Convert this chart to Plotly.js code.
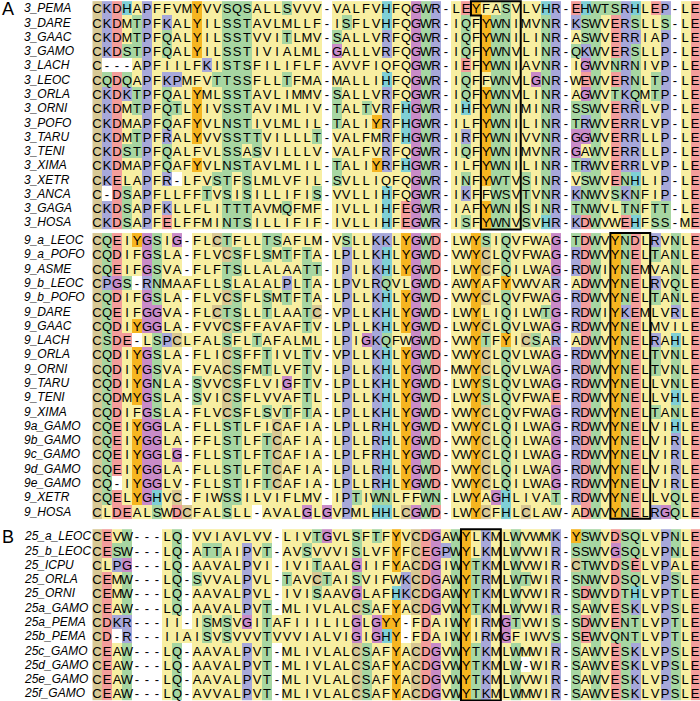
<!DOCTYPE html>
<html><head><meta charset="utf-8">
<script src="https://cdn.plot.ly/plotly-3.0.1.min.js"></script>
<style>html,body{margin:0;padding:0;background:#fff}#chart{width:700px;height:701px}</style>
</head><body><div id="chart"></div>
<script>
// ---------- data ----------
const labels3 = ["3_PEMA","3_DARE","3_GAAC","3_GAMO","3_LACH","3_LEOC","3_ORLA","3_ORNI","3_POFO","3_TARU","3_TENI","3_XIMA","3_XETR","3_ANCA","3_GAGA","3_HOSA"];
const seqs3 = [
"CKDHAPFFVMYVVSQSALLSVVV-VALFVHFQGWR-LEYFASVLVHR-EHWTSRHLEP-LE",
"CKDMTPFKALYILSSTAVLMLLF-ISFLVHFQGWR-IQFYWNIMVNR-KSWVERSLLS-LE",
"CKDMTPFQALYILSSTVVITLMV-SALLVRFQGWR-IQFYWNILINR-ASWVERRIAP-LE",
"CKDSTPFQALYILSSTIVIALML-GALLVRFQGWR-IQFYWNVLINR-QKWVERSLLP-LE",
"C---APFIILFKISTSFILIFLF-AVVFIQFQGWR-IEFYWNIAVNR-IGWVNRNIVP-LE",
"CQDQAPFKPMFVTTSSFLLTFMA-MALLIHFQGWR-IQFFWNVLGNR-WEWVERNLTP-LE",
"CKDKTPFQALYMLSSTAVLIMMV-SALLVRFQGWR-IQFYWNVLINR-AGWVTKQMTP-LE",
"CKDMTPFQTLYIVSSTAVIMLIV-TALTVRFHGWR-IHFYWNIMINR-SSWVERRLVP-LE",
"CKDMAPFQAFYVLNSTIVLMLIL-TALIYRFHGWR-ILFYWNILINR-TRWVERRLVP-LE",
"CKDMTPFRALYVVSSTTVILLLT-VALFMRFHGWR-IRFYWNIVVNR-GGWVERRLLP-LE",
"CKDSTPFQALFVLSSASVILLLV-VALFVRFQGWR-IQFYWNIMVNR-GAWVERRLLP-LE",
"CKDMAPFQAFYVLNSTAVLMLIL-TALIYRFHGWR-ILFYWNILINR-TRWVERRLVP-LE",
"CKELAPFR-LFVSTFSLMLVFIL-SVLLIQFQGWR-INFYWTVSINR-VSWVENHLIP-LE",
"C-DSAPFLLFFTVSISILLIFIS-VVLLIHFQGWR-IKFFWSVTVNR-KNWVSKNFIP-LE",
"CKDSAPFKLLFLITTTAVMQFMF-IVLLIHFEGWR-IAFYWNISINR-TNWVLTNFTT-LE",
"CKDSAPFELFFMINTSILLIFIF-IVLLIHFEGWR-ISFYWNVSVHR-KDWVWEHFSS-ME"
];
const labels9 = ["9_a_LEOC","9_a_POFO","9_ASME","9_b_LEOC","9_b_POFO","9_DARE","9_GAAC","9_LACH","9_ORLA","9_ORNI","9_TARU","9_TENI","9_XIMA","9a_GAMO","9b_GAMO","9c_GAMO","9d_GAMO","9e_GAMO","9_XETR","9_HOSA"];
const seqs9 = [
"CQEIYGSIG-FLCTFLLTSAFLM-VSLLKKLYGWD-LWYSIQVFWAG-TDWVYNDLRVNLE",
"CQDIFGSLA-FLVCSFLSMTFTA-LPLLKHLYGWD-VWYCLQVFWAG-RDWVYNELTANLE",
"CQEIFGSVA-FLFTSLLALAATT-IPILKHLYGWD-LWYCFQILWAG-RDWIYNEMVANLE",
"CPGS-RNMAAFLLSLALALPLTA-LPVLRQVLGWD-AWYAFYVWVAR-ADWVYNELRVQLE",
"CQDIFGSLA-FLVCSFLSMTFTA-LPLLKHLYGWD-VWYCLQVFWAG-RDWVYNELTANLE",
"CQEIFGGVA-FLCTSLLTLAATC-VPLLKHLYGWD-LWYLIQILWTG-RDWIYKEMLVRLE",
"CQDIYGGLA-FVVCSFFAVAFTV-LPLLKHLYGWD-LWYCLQVLWAG-RDWVYNELMVILE",
"CSDE-LSPCLFALSFLTAFALML-LPIGKQFWGWD-VWYTFYICSAR-ADWVYNELRAHLE",
"CQDIYGSLA-FLICSFFTIVLTV-VPLLKHLYGWD-VWYCLQVLWAG-RDWVYNELTVNLE",
"CQDIYGSVA-FVACSFMTLVFTV-LPLLKHLYGWD-MWYCLQVLWAG-RDWVYNELTVNLE",
"CQDIYGNLA-SVVCSFLVIGFTV-LPLLKHLYGWD-LWYSLQVLWAG-RDWVYNELLVNLE",
"CQDMYGSLA-SVICSFLVVAFTL-LPLLKHLYGWD-LWYSLQVFWAE-RDWVYNELLVHLE",
"CQDIFGSLA-FLVCSFLSVTFTA-LPLLKHLYGWD-VWYCLQVFWAG-RDWVYNELTANLE",
"CQEIYGGLA-FLLSTLFICAFIA-LPLLRHLYGWD-VWYCLQILWAG-RDWVYNELVIHLE",
"CQEIYGGLA-FFLSTLFTCAFIA-LPLLRHLYGWD-VWYCLQILWAG-RDWVYNELVIRLE",
"CQEIYGGLG-FLLSTLFTCAFIA-LPLFRHLYGWD-VWYCLQILWAG-RDWVYNELVIRLE",
"CQEIYGGLA-FLLSTLFTCAFIA-LPLLRHLYGWD-VWYCLQILWAG-RDWVYNELVIRLE",
"CQ-IYGGLV-FLLSTIFTCAFIA-LPLLRHLYGWD-VWYCLQILWAG-RDWVYNELVIRLE",
"CQELYGHVC-FIWSSILVIFLMV-IPTIWNLFFWN-LWYAGHLIVAT-RDWVYNELLVQLE",
"CLDEALSWDCFALSLL-AVALGLGVPMLHHLCGWD-LWYCFHLCLAW-ADWVYNELRGQLE"
];
const labels25 = ["25_a_LEOC","25_b_LEOC","25_ICPU","25_ORLA","25_ORNI","25a_GAMO","25a_PEMA","25b_PEMA","25c_GAMO","25d_GAMO","25e_GAMO","25f_GAMO"];
const seqs25 = [
"CEVW---LQ-VVIAVLVV-LIVTGVLSFTFYVCDGAWYLKMLWVWMK-YSWVDSQLVPNLE",
"CESW---LQ-ATTAIPVT-AVSVVVISLVFYFCEGPWYLKMLWVWIR-SSWVGSQLVPNLE",
"CLPG---LQ-AAVALPVI-IVITAALGIIFYACDGIWYTKMLWVWIR-CTWVDSELVPALE",
"CEMW---LQ-SVVALPVL-TAVCTAISVIFWKCDGAWYTRMLWTWIR-SNWVDSQLVPSLE",
"CEMW---LQ-AAVALPVL-IVISAAVGLAFHKCDGAWYTKMLWVWIR-SDWVDTHLVPTLE",
"CEAW---LQ-AAVALPVT-MLIVLALCSAFYACDGVWYTKMLWVWIR-SAWVESKLVPSLE",
"CDKR---II-ISMSVGITAFIIILILGLGYY-FDAIWYIRMGTVWIS-SDWVENTLVPTLE",
"CD-R---IIAISVSVVVTVVVIALVIGIGHY-FDAIWYIRMGFIWVS-SEWVQNTLVPTLE",
"CEAW---LQ-AAVALPVT-MLIVLALCSAFYACDGVWYTKMLWMWIR-SAWVESKLVPSLE",
"CEAW---LQ-AAVALPVT-MLIVLALCSAFYACDGVWYTKMLW-WIR-SAWVESKLVPSLE",
"CEAW---LQ-AAVALPVT-MLIVLALCSAFYACDGVWYTKMLWVWIR-SAWVESKLVPSLE",
"CEAW---LQ-AVVALPVT-MLIVLALCSAFYACDGVWYTKMLWMWIR-SAWVESKLVPSLE"
];
// alignment columns (1-based) where W is shaded as conserved (green) and Q as hydrophobic context (yellow)
const wConserved3 = [34, 41, 51];
const wConserved9 = [29, 34, 51];
const wConserved25 = [4, 37, 43, 51];
const qHydro3 = [30, 32];
const qHydro9 = [];
const qHydro25 = [];
// boxed motif columns
const box3 = {first: 40, last: 43, firstRowFirst: 39};
const box9 = {first: 53, last: 56};
const box25 = {first: 38, last: 41};

// ---------- styles ----------
const palette = ["#ffffff","#f8efa2","#a7d6a2","#f39d9b","#a7a8da","#c98bc8","#f6b520","#7fd0d6","#d8c894"];
const cls = {"-":0,A:1,V:1,L:1,I:1,M:1,F:1,W:1,S:2,T:2,N:2,Q:2,D:3,E:3,K:4,R:4,P:4,G:5,Y:6,H:7,C:8};
const FONT = "Liberation Sans, Arial, sans-serif";
const gap1 = 0.24, gap2 = 0.74;
const start3 = 0, start9 = 16 + gap1, start25 = 36 + gap1 + gap2;

function block(seqs, start, wCols, qCols) {
  const ncol = seqs[0].length;
  const x = Array.from({length: ncol}, (_, i) => i + 1);
  const y = seqs.map((_, i) => start + i);
  const z = seqs.map(s => s.split("").map((ch, j) => {
    if (ch === "W" && wCols.includes(j + 1)) return 2;
    if (ch === "Q" && qCols.includes(j + 1)) return 1;
    return cls[ch];
  }));
  const text = seqs.map(s => s.split(""));
  return {
    type: "heatmap", x, y, z, text,
    texttemplate: "%{text}",
    textfont: {family: FONT, size: 13, color: "#000"},
    colorscale: palette.map((c, k) => [k / (palette.length - 1), c]),
    zmin: 0, zmax: palette.length - 1,
    showscale: false, hoverinfo: "skip", xgap: 0, ygap: 0
  };
}

const data = [
  block(seqs3, start3, wConserved3, qHydro3),
  block(seqs9, start9, wConserved9, qHydro9),
  block(seqs25, start25, wConserved25, qHydro25)
];

const annotations = [];
function addLabels(labels, start) {
  labels.forEach((t, i) => annotations.push({
    text: "<i>" + t + "</i>", xref: "paper", x: 22 / 700, xanchor: "left",
    yref: "y", y: start + i, yanchor: "middle", showarrow: false,
    font: {family: FONT, size: 12, color: "#000"}
  }));
}
addLabels(labels3, start3); addLabels(labels9, start9); addLabels(labels25, start25);
annotations.push({text: "A", xref: "paper", x: 0, xanchor: "left", yref: "y", y: start3 + 0.05, yanchor: "middle", showarrow: false, font: {family: FONT, size: 18, color: "#000"}});
annotations.push({text: "B", xref: "paper", x: 0, xanchor: "left", yref: "y", y: start25 + 0.05, yanchor: "middle", showarrow: false, font: {family: FONT, size: 18, color: "#000"}});

const line = {color: "#000", width: 2};
const shapes = [
  {type: "path", xref: "x", yref: "y", line,
   path: `M ${box3.firstRowFirst - 0.5},${start3 - 0.5} L ${box3.last + 0.5},${start3 - 0.5} L ${box3.last + 0.5},${start3 + seqs3.length - 0.5} L ${box3.first - 0.5},${start3 + seqs3.length - 0.5} L ${box3.first - 0.5},${start3 + 0.5} L ${box3.firstRowFirst - 0.5},${start3 + 0.5} Z`},
  {type: "rect", xref: "x", yref: "y", line, x0: box9.first - 0.5, x1: box9.last + 0.5, y0: start9 - 0.5, y1: start9 + seqs9.length - 0.5},
  {type: "rect", xref: "x", yref: "y", line, x0: box25.first - 0.5, x1: box25.last + 0.5, y0: start25 - 0.5, y1: start25 + seqs25.length - 0.5}
];

const colW = (700 - 92.5) / 61;
const layout = {
  width: 700, height: 701,
  margin: {l: 0, r: 0, t: 0, b: 0, pad: 0},
  paper_bgcolor: "#fff", plot_bgcolor: "#fff",
  showlegend: false,
  xaxis: {range: [0.5 - 92.5 / colW, 61.5], visible: false, fixedrange: true},
  yaxis: {range: [48.51, -0.58], visible: false, fixedrange: true},
  annotations, shapes
};
Plotly.newPlot("chart", data, layout, {staticPlot: true, displayModeBar: false});
</script>
</body></html>
